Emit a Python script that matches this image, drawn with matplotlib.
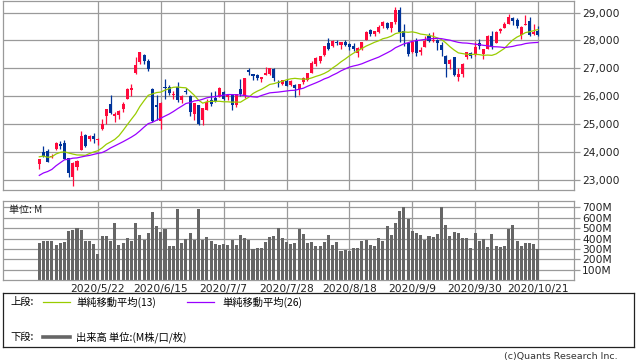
import matplotlib
matplotlib.use("Agg")
import matplotlib.pyplot as plt
import numpy as np
import pandas as pd
from matplotlib.ticker import FuncFormatter

W, H = 638, 362
JP = ['Noto Sans CJK JP', 'DejaVu Sans']

# closes before the first candle (only used for the moving averages)
prior_closes = [21637, 22327, 21917, 20944, 21413, 21053, 22680, 22654, 23434, 23719,
                23391, 23950, 23504, 23538, 24242, 23650, 23019, 23476, 23515, 23775,
                24134, 24102, 24634, 24346, 23724]

opens = [23581, 24000, 24040, 23820, 24100, 24280, 24320, 23780, 23100, 23480,
         24070, 24620, 24460, 24600, 24450, 24820, 25290, 25710, 25300, 25340,
         25560, 25920, 26240, 26840, 27230, 27480, 27270, 26280, 25680, 25110,
         26350, 26350, 26060, 26330, 25880, 26200, 26000, 25370, 25680, 25150,
         25510, 25880, 25950, 25990, 26150, 25960, 26060, 25700, 26250, 26000,
         26960, 26800, 26780, 26620, 26770, 26800, 26990, 26500, 26430, 26560,
         26400, 26400, 26250, 26500, 26600, 26850, 27150, 27250, 27480, 27900,
         27800, 27930, 27830, 27960, 27880, 27800, 27550, 27700, 28000, 28380,
         28240, 28300, 28500, 28640, 28440, 28660, 29080, 28340, 27900, 27600,
         28000, 27600, 27750, 28150, 27980, 28000, 27850, 27450, 27150, 27400,
         26700, 26800, 27420, 27560, 27500, 27900, 27500, 27700, 28150, 27900,
         28350, 28450, 28600, 28800, 28730, 28200, 28550, 28700, 28220, 28350]
highs = [23755, 24214, 24100, 23950, 24380, 24400, 24450, 23800, 23650, 23720,
         24765, 24650, 24620, 24700, 24500, 25200, 25550, 26040, 25430, 25500,
         25790, 26300, 26450, 27400, 27580, 27500, 27350, 26300, 26040, 25800,
         26610, 26400, 26200, 26500, 26040, 26290, 26050, 25770, 25700, 25600,
         25905, 26140, 26200, 26325, 26200, 26080, 26060, 26100, 26630, 26660,
         27000, 26810, 26800, 26700, 27050, 27030, 27030, 26600, 26600, 26620,
         26600, 26460, 26440, 26700, 26850, 27250, 27400, 27460, 27800, 28100,
         28000, 28000, 27950, 28000, 27900, 27900, 27760, 27960, 28350, 28400,
         28350, 28550, 28680, 28650, 28660, 29200, 29200, 28600, 27950, 28000,
         28100, 27750, 28150, 28250, 28300, 28050, 27950, 27480, 27320, 27400,
         27000, 27200, 27600, 27600, 27950, 28050, 27700, 28200, 28350, 28350,
         28450, 28650, 28950, 28850, 28820, 28530, 28900, 28850, 28600, 28500]
lows = [23391, 23840, 23650, 23780, 24080, 24100, 23750, 23100, 22790, 23360,
        24070, 24200, 24400, 24350, 24260, 24800, 25000, 25380, 25100, 25200,
        25450, 25900, 26000, 26800, 27150, 27150, 26900, 25080, 25140, 24845,
        25900, 26050, 25900, 25800, 25760, 26070, 25300, 25170, 24970, 24990,
        25500, 25670, 25800, 25990, 25870, 25870, 25530, 25620, 26000, 25950,
        26760, 26600, 26600, 26500, 26750, 26750, 26550, 26340, 26400, 26370,
        26380, 25980, 26050, 26450, 26550, 26850, 27100, 27200, 27450, 27650,
        27750, 27850, 27700, 27800, 27650, 27630, 27420, 27650, 28000, 28150,
        28150, 28250, 28450, 28400, 28290, 28600, 27950, 27800, 27450, 27550,
        27450, 27480, 27750, 27950, 27950, 27650, 27450, 26700, 26980, 26720,
        26540, 26690, 27350, 27360, 27450, 27700, 27350, 27700, 27700, 27900,
        28250, 28450, 28600, 28550, 28450, 28070, 28550, 28150, 28200, 28150]
closes = [23750, 23883, 23665, 23876, 24331, 24222, 23765, 23248, 23625, 23685,
          24597, 24207, 24576, 24474, 24465, 24995, 25548, 25401, 25383, 25475,
          25743, 26270, 26282, 27111, 27572, 27272, 26990, 25128, 25606, 25763,
          26290, 26120, 26080, 25871, 26025, 26156, 25446, 25746, 25016, 25596,
          25813, 25735, 25827, 26287, 25890, 26067, 25706, 26075, 26086, 26643,
          26870, 26735, 26672, 26681, 26840, 27006, 26652, 26470, 26585, 26379,
          26540, 26314, 26428, 26664, 26828, 27202, 27387, 27433, 27791, 27687,
          27977, 27897, 27931, 27845, 27778, 27693, 27740, 27930, 28308, 28248,
          28332, 28492, 28654, 28430, 28646, 29100, 28293, 28133, 27501, 27940,
          27535, 27666, 27993, 27996, 28032, 27902, 27657, 27148, 27288, 26763,
          26815, 27174, 27584, 27453, 27782, 27817, 27683, 28149, 27773, 28303,
          28426, 28587, 28838, 28680, 28514, 28494, 28606, 28195, 28309, 28211]
# volume in millions
volumes = [361, 377, 377, 377, 339, 361, 368, 473, 486, 499,
           486, 377, 377, 349, 253, 425, 425, 377, 550, 339,
           361, 406, 377, 550, 435, 390, 454, 655, 521, 467,
           492, 329, 329, 684, 358, 400, 454, 390, 684, 387,
           416, 377, 349, 342, 349, 339, 387, 339, 435, 403,
           387, 297, 307, 313, 368, 416, 425, 499, 403, 368,
           349, 358, 496, 444, 358, 368, 329, 329, 368, 435,
           339, 368, 281, 294, 281, 310, 310, 377, 387, 339,
           329, 406, 377, 521, 435, 550, 665, 700, 588, 473,
           454, 435, 387, 425, 416, 444, 700, 531, 425, 464,
           454, 403, 406, 307, 454, 377, 397, 320, 444, 329,
           320, 329, 496, 531, 377, 329, 358, 358, 349, 301]

tick_labels = ['2020/5/22', '2020/6/15', '2020/7/7', '2020/7/28',
               '2020/8/18', '2020/9/9', '2020/9/30', '2020/10/21']
tick_index = [14, 29, 44, 59, 74, 89, 104, 119]
price_ticks = [23000, 24000, 25000, 26000, 27000, 28000, 29000]
volume_ticks = [100, 200, 300, 400, 500, 600, 700]

UP = '#ff0a3c'
DOWN = '#003399'
GRID = '#9a9a9a'


def px_box(x0, y0, x1, y1):
    return [x0 / W, 1 - y1 / H, (x1 - x0) / W, (y1 - y0) / H]


def style_axis(a):
    for s in a.spines.values():
        s.set_color(GRID)
        s.set_linewidth(0.9)
    a.grid(True, color=GRID, linewidth=0.9)
    a.set_axisbelow(True)


all_closes = pd.Series(prior_closes + closes, dtype=float)
sma13 = all_closes.rolling(13).mean().iloc[len(prior_closes):].to_numpy()
sma26 = all_closes.rolling(26).mean().iloc[len(prior_closes):].to_numpy()

x = np.arange(len(closes))
o = np.array(opens, dtype=float)
c = np.array(closes, dtype=float)
colors = np.where(c >= o, UP, DOWN)

fig = plt.figure(figsize=(W / 100, H / 100), dpi=100)
xlim = (-8.66, 127.6)

# upper panel: candles + moving averages
ax = fig.add_axes(px_box(3, 0.5, 574, 190.3))
style_axis(ax)
ax.vlines(x, lows, highs, colors=colors, linewidth=0.9)
body = np.maximum(np.abs(c - o), 18)
ax.bar(x, body, bottom=np.minimum(o, c), width=0.72, color=colors, linewidth=0)
ax.plot(x, sma13, color='#99cc00', linewidth=0.9)
ax.plot(x, sma26, color='#9900ff', linewidth=0.9)
ax.set_xlim(*xlim)
ax.set_ylim(22640, 29430)
ax.set_xticks(tick_index)
ax.set_yticks(price_ticks)
ax.yaxis.tick_right()
ax.yaxis.set_major_formatter(FuncFormatter(lambda v, p: f"{int(v):,}"))
ax.tick_params(axis='x', length=0, labelbottom=False)
ax.tick_params(axis='y', direction='out', length=4, width=0.9, color=GRID,
               labelsize=7.7, labelcolor='#222222', pad=2)

# lower panel: volume
axv = fig.add_axes(px_box(3, 201, 574, 280.3))
style_axis(axv)
axv.bar(x, volumes, width=0.72, color='#666666', linewidth=0)
axv.set_xlim(*xlim)
axv.set_ylim(0, 760)
axv.set_xticks(tick_index)
axv.set_xticklabels(tick_labels)
axv.set_yticks(volume_ticks)
axv.set_yticklabels([f"{v}M" for v in volume_ticks])
axv.yaxis.tick_right()
axv.tick_params(axis='x', length=0, labelsize=7.7, labelcolor='#222222', pad=3)
axv.tick_params(axis='y', direction='out', length=4, width=0.9, color=GRID,
                labelsize=7.7, labelcolor='#222222', pad=2)
fig.text(9 / W, 1 - 210 / H, '単位: M', family=JP, fontsize=7.2,
         va='center', ha='left', color='#222222')

# legend box drawn in pixel coordinates
leg = fig.add_axes(px_box(3, 293, 634, 347))
leg.set_xlim(3, 634)
leg.set_ylim(347, 293)
leg.set_xticks([])
leg.set_yticks([])
for s in leg.spines.values():
    s.set_color('#222222')
    s.set_linewidth(0.9)
fs = 7.4
leg.text(10, 302, '上段:', family=JP, fontsize=fs, va='center')
leg.plot([43, 70], [302, 302], color='#99cc00', linewidth=0.9)
leg.text(76, 302, '単純移動平均(13)', family=JP, fontsize=fs, va='center')
leg.plot([187, 214], [302, 302], color='#9900ff', linewidth=0.9)
leg.text(222, 302, '単純移動平均(26)', family=JP, fontsize=fs, va='center')
leg.text(10, 337, '下段:', family=JP, fontsize=fs, va='center')
leg.plot([43, 70], [337, 337], color='#666666', linewidth=2.6)
leg.text(76, 337, '出来高 単位:(M株/口/枚)', family=JP, fontsize=fs, va='center')

fig.text(618 / W, 1 - 356 / H, '(c)Quants Research Inc.', fontsize=6.8,
         ha='right', va='center', color='#333333')

fig.savefig('out.png', dpi=100)
